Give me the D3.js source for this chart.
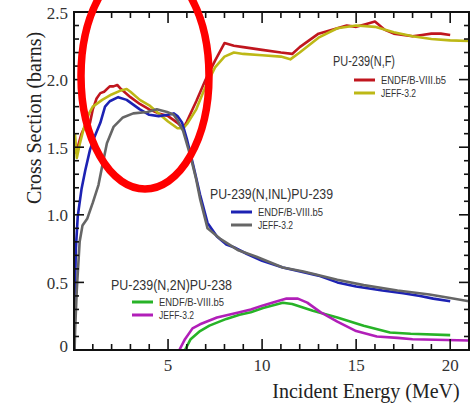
<!DOCTYPE html>
<html>
<head>
<meta charset="utf-8">
<script src="https://cdn.jsdelivr.net/npm/d3@7"></script>
<style>
  html, body { margin: 0; padding: 0; background: #fff; }
  svg { display: block; }
  .tick-label { font-family: "Liberation Serif", "Times New Roman", serif; font-size: 17px; fill: #333; }
  .axis-title { font-family: "Liberation Serif", "Times New Roman", serif; font-size: 20px; fill: #222; }
  .legend-title { font-family: "Liberation Sans", Arial, sans-serif; font-size: 14.5px; fill: #333; }
  .legend-item { font-family: "Liberation Sans", Arial, sans-serif; font-size: 11px; fill: #333; }
</style>
</head>
<body>
<svg id="chart" width="471" height="405"></svg>
<script>
// Pu-239 evaluated cross sections, [incident energy (MeV), cross section (barns)]
const fissionEndf = [
  [0.1,1.45],[0.2,1.5],[0.4,1.6],[0.6,1.66],[0.85,1.68],[1.0,1.78],[1.2,1.86],[1.4,1.9],
  [1.6,1.91],[1.9,1.95],[2.1,1.95],[2.3,1.96],[2.5,1.93],[3.0,1.87],[3.5,1.82],[4.0,1.78],
  [4.5,1.75],[5.0,1.73],[5.3,1.70],[5.5,1.68],[5.8,1.64],[6.0,1.69],[6.5,1.84],[7.0,2.0],
  [7.5,2.14],[8.0,2.27],[8.5,2.25],[9,2.24],[10,2.22],[11,2.2],[11.6,2.19],[12,2.24],
  [13,2.34],[14,2.38],[14.5,2.40],[15,2.39],[15.5,2.41],[16,2.43],[16.5,2.37],[17,2.34],
  [18,2.32],[18.5,2.33],[19,2.34],[19.5,2.34],[20,2.33]
];
const fissionJeff = [
  [0.05,1.6],[0.15,1.42],[0.3,1.52],[0.5,1.63],[0.8,1.75],[1.0,1.8],[1.5,1.85],[2.0,1.89],
  [2.5,1.92],[2.8,1.93],[3.0,1.91],[3.5,1.85],[4.0,1.81],[4.5,1.75],[5.0,1.69],[5.5,1.64],
  [5.8,1.64],[6.0,1.67],[6.5,1.78],[7.0,1.95],[7.5,2.09],[8.0,2.17],[8.5,2.2],[9,2.19],
  [10,2.18],[11,2.17],[11.5,2.15],[12,2.2],[13,2.31],[14,2.38],[15,2.4],[16,2.39],
  [17,2.35],[18,2.32],[19,2.3],[20,2.29],[21,2.285]
];
const inelasticEndf = [
  [0.02,0],[0.05,0.45],[0.1,0.75],[0.2,0.99],[0.4,1.19],[0.6,1.33],[0.85,1.48],[1.1,1.58],
  [1.4,1.68],[1.65,1.8],[1.9,1.84],[2.35,1.87],[2.8,1.85],[3.5,1.78],[4.0,1.74],[4.5,1.73],
  [5.0,1.74],[5.3,1.75],[5.5,1.73],[5.75,1.68],[6.0,1.56],[6.35,1.36],[6.7,1.15],[7.1,0.94],
  [7.6,0.84],[8.1,0.78],[8.5,0.76],[9.2,0.71],[10,0.66],[11.1,0.61],[12.2,0.575],[13,0.55],
  [14,0.5],[15,0.47],[16.4,0.44],[17.5,0.42],[18.4,0.4],[19.1,0.38],[20,0.36]
];
const inelasticJeff = [
  [0.03,0],[0.06,0.15],[0.15,0.45],[0.3,0.8],[0.45,0.92],[0.7,0.97],[1.0,1.09],[1.3,1.22],
  [1.5,1.36],[1.75,1.53],[2.1,1.65],[2.6,1.72],[3.15,1.75],[3.9,1.76],[4.4,1.78],[4.95,1.76],
  [5.3,1.74],[5.5,1.7],[5.8,1.62],[6.2,1.43],[6.5,1.26],[6.7,1.12],[7.1,0.9],[7.8,0.82],
  [8.7,0.74],[9.7,0.69],[11.1,0.61],[12.2,0.58],[14,0.52],[15.4,0.48],[17.2,0.44],
  [18.9,0.41],[20,0.385],[21,0.36]
];
const n2nEndf = [
  [5.9,0],[6.2,0.08],[6.7,0.14],[7.2,0.18],[8.1,0.23],[8.8,0.26],[9.4,0.28],[10.05,0.31],
  [11.1,0.35],[11.6,0.34],[12.7,0.29],[14,0.24],[15.4,0.18],[16.8,0.13],[17.9,0.12],[20,0.11]
];
const n2nJeff = [
  [5.6,0],[5.9,0.08],[6.3,0.16],[6.7,0.19],[7.6,0.24],[8.8,0.28],[9.4,0.3],[10.05,0.33],
  [10.8,0.36],[11.3,0.38],[11.9,0.38],[12.4,0.35],[13.1,0.28],[14,0.21],[15,0.14],
  [16.1,0.1],[17.2,0.09],[18,0.08],[21,0.07]
];

const reactionTitles = ["PU-239(N,F)", "PU-239(N,INL)PU-239", "PU-239(N,2N)PU-238"];
const libraryNames = [["ENDF/B-VIII.b5", "JEFF-3.2"], ["ENDF/B-VIII.b5", "JEFF-3.2"], ["ENDF/B-VIII.b5", "JEFF-3.2"]];
const xTickValues = [5, 10, 15, 20];
const yTickValues = [0, 0.5, 1.0, 1.5, 2.0, 2.5];
const xAxisTitle = "Incident Energy (MeV)";
const yAxisTitle = "Cross Section (barns)";

const svg = d3.select("#chart");
const plot = { left: 74, right: 469, top: 12, bottom: 350 };

const x = d3.scaleLinear().domain([0, 21]).range([plot.left, plot.right]);
const y = d3.scaleLinear().domain([0, 2.5]).range([plot.bottom, plot.top]);

svg.append("defs").append("clipPath").attr("id", "plot-clip")
  .append("rect")
  .attr("x", plot.left).attr("y", plot.top - 2)
  .attr("width", plot.right - plot.left).attr("height", plot.bottom - plot.top + 2);

// One group per reaction: its two evaluations plus the legend block placement
const groups = [
  { title: reactionTitles[0], names: libraryNames[0], series: [fissionEndf, fissionJeff], colors: ["#c0161e", "#bdb816"],
    legendX: 333, legendY: 66, rowGap: [14, 27], titleLen: 62 },
  { title: reactionTitles[1], names: libraryNames[1], series: [inelasticEndf, inelasticJeff], colors: ["#1d22b3", "#666666"],
    legendX: 210, legendY: 199, rowGap: [13, 26], titleLen: 123 },
  { title: reactionTitles[2], names: libraryNames[2], series: [n2nEndf, n2nJeff], colors: ["#27b327", "#b11fb8"],
    legendX: 111, legendY: 290, rowGap: [12, 25], titleLen: 121 }
];
const itemLens = [65, 35];

const line = d3.line().x(d => x(d[0])).y(d => y(d[1]));
const curves = svg.append("g").attr("clip-path", "url(#plot-clip)");
groups.forEach(g => {
  g.series.forEach((s, i) => {
    curves.append("path")
      .datum(s)
      .attr("d", line)
      .attr("fill", "none")
      .attr("stroke", g.colors[i])
      .attr("stroke-width", 2.6)
      .attr("stroke-linejoin", "round");
  });
});

// Frame and ticks (inward, on all four sides)
const axisColor = "#111";
const gB = svg.append("g").attr("transform", `translate(0,${plot.bottom})`);
const gT = svg.append("g").attr("transform", `translate(0,${plot.top})`);
[gB, gT].forEach((g, k) => {
  g.selectAll("line.tk").data(d3.range(1, 21)).join("line")
    .attr("x1", d => x(d)).attr("x2", d => x(d))
    .attr("y1", 0)
    .attr("y2", d => (k === 0 ? -1 : 1) * (d % 5 === 0 ? 11 : 6))
    .attr("stroke", axisColor).attr("stroke-width", 1.6);
});
const gL = svg.append("g");
const gR = svg.append("g");
const yMinor = d3.range(1, 25).map(i => i / 10);
[[gL, plot.left, 1], [gR, plot.right, -1]].forEach(([g, px, dir]) => {
  g.selectAll("line").data(yMinor).join("line")
    .attr("x1", px)
    .attr("x2", d => px + dir * (Math.abs(d * 2 - Math.round(d * 2)) < 1e-6 ? 10 : 5))
    .attr("y1", d => y(d)).attr("y2", d => y(d))
    .attr("stroke", axisColor).attr("stroke-width", 1.6);
});
svg.append("rect")
  .attr("x", plot.left).attr("y", plot.top)
  .attr("width", plot.right - plot.left).attr("height", plot.bottom - plot.top)
  .attr("fill", "none").attr("stroke", axisColor).attr("stroke-width", 2);

// Tick labels
svg.append("g").selectAll("text").data(xTickValues).join("text")
  .attr("class", "tick-label")
  .attr("x", d => x(d)).attr("y", plot.bottom + 21)
  .attr("text-anchor", "middle")
  .text(d => d);
svg.append("g").selectAll("text").data(yTickValues).join("text")
  .attr("class", "tick-label")
  .attr("x", 68)
  .attr("y", d => y(d) + (d === 0 ? -4 : 1))
  .attr("text-anchor", "end")
  .attr("dominant-baseline", "central")
  .text(d => d === 0 ? "0" : d.toFixed(1));

// Axis titles
svg.append("text").attr("class", "axis-title")
  .attr("x", 366).attr("y", 398)
  .attr("text-anchor", "middle")
  .text(xAxisTitle);
svg.append("text").attr("class", "axis-title")
  .attr("transform", "translate(41,118) rotate(-90)")
  .attr("text-anchor", "middle")
  .text(yAxisTitle);

// Legends, set in a condensed width
groups.forEach(g => {
  const lg = svg.append("g").attr("transform", `translate(${g.legendX},${g.legendY})`);
  lg.append("text").attr("class", "legend-title")
    .attr("textLength", g.titleLen).attr("lengthAdjust", "spacingAndGlyphs")
    .text(g.title);
  g.names.forEach((n, i) => {
    const yy = g.rowGap[i];
    lg.append("line")
      .attr("x1", 21).attr("x2", 42).attr("y1", yy).attr("y2", yy)
      .attr("stroke", g.colors[i]).attr("stroke-width", 3);
    lg.append("text").attr("class", "legend-item")
      .attr("x", 48).attr("y", yy).attr("dominant-baseline", "central")
      .attr("textLength", itemLens[i]).attr("lengthAdjust", "spacingAndGlyphs")
      .text(n);
  });
});

// Highlight ring around the low-energy region
svg.append("ellipse")
  .attr("cx", 145).attr("cy", 76).attr("rx", 64).attr("ry", 113)
  .attr("fill", "none").attr("stroke", "#ff0000").attr("stroke-width", 7.5);
</script>
</body>
</html>
